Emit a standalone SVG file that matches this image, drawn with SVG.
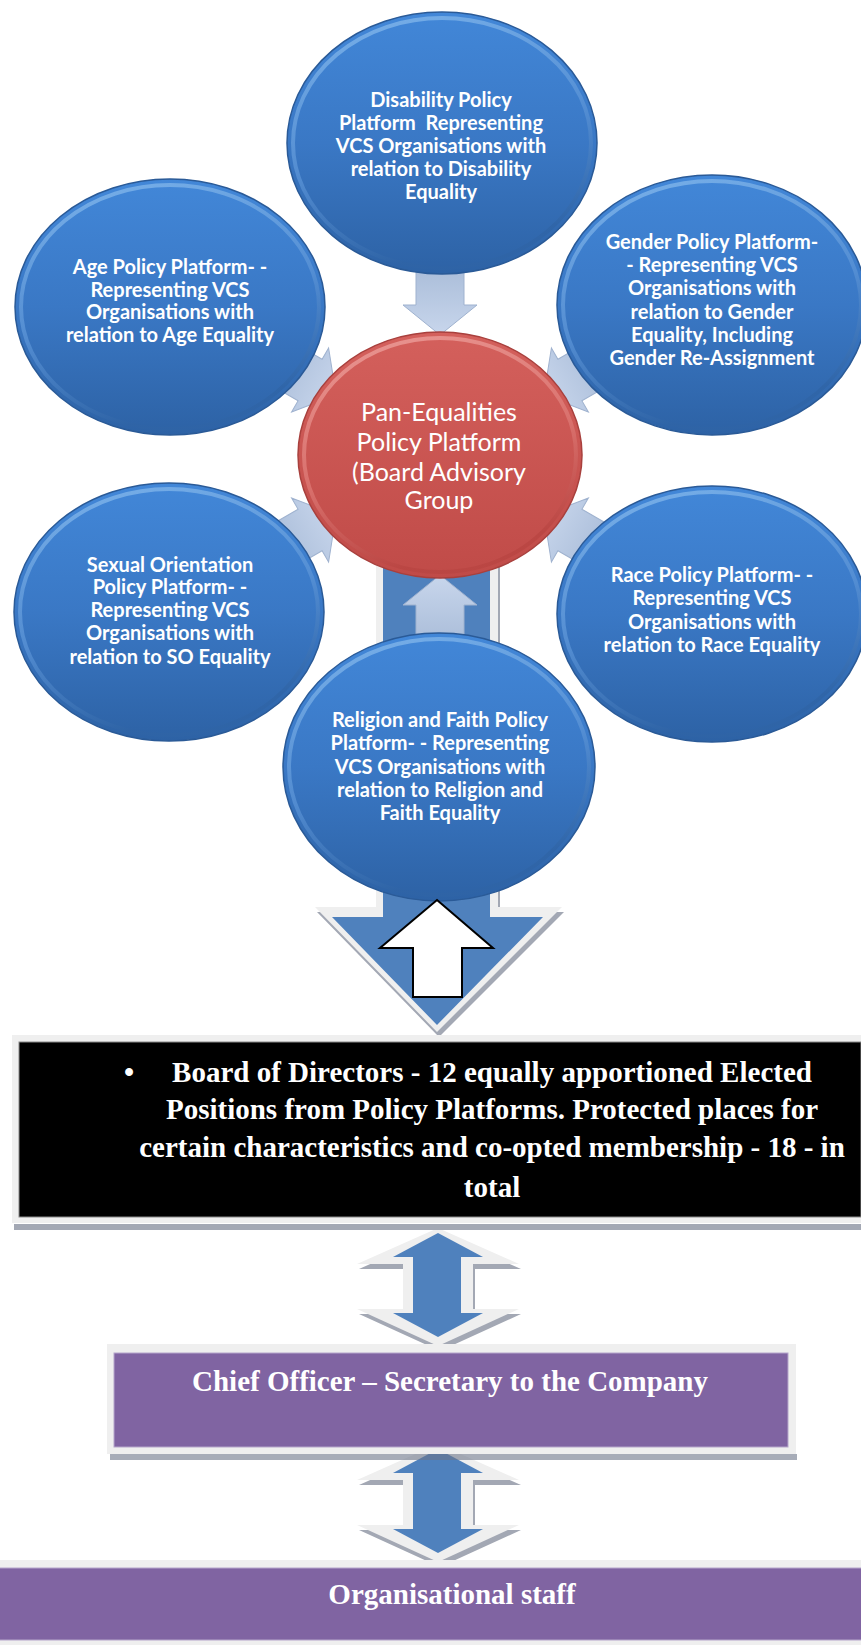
<svg xmlns="http://www.w3.org/2000/svg" xmlns:xlink="http://www.w3.org/1999/xlink" width="861" height="1645" viewBox="0 0 861 1645">
<defs>
<style>
.bt{font-family:Lato,"Open Sans","Liberation Sans",sans-serif;font-weight:bold;font-size:20px;fill:#fff;text-anchor:middle}
.rt{font-family:Lato,"Open Sans","Liberation Sans",sans-serif;font-size:25px;fill:#fff;text-anchor:middle}
.st{font-family:"Liberation Serif","Times New Roman",serif;font-weight:bold;font-size:29px;fill:#fff;text-anchor:middle}
.bc{fill:url(#bfill);stroke:#2a5a97;stroke-width:1.5}
.brim{fill:none;stroke:url(#brimg);stroke-width:4;opacity:.75}
.sa{fill:url(#safill);stroke:#9fb2cf;stroke-width:1}
.frame{fill:#efefef}
.shadow{fill:#a3a8b4}
.blue{fill:#4f81bd}
</style>
<linearGradient id="bfill" x1="0" y1="0" x2="0" y2="1">
<stop offset="0" stop-color="#4287d8"/><stop offset="0.5" stop-color="#3a78c5"/><stop offset="1" stop-color="#2d62a5"/>
</linearGradient>
<linearGradient id="brimg" x1="0" y1="0" x2="0.3" y2="1">
<stop offset="0" stop-color="#8dc0f0"/><stop offset="0.6" stop-color="#5a93d6"/><stop offset="1" stop-color="#2f64a6"/>
</linearGradient>
<linearGradient id="rfill" x1="0" y1="0" x2="0" y2="1">
<stop offset="0" stop-color="#d4605c"/><stop offset="1" stop-color="#c04b48"/>
</linearGradient>
<linearGradient id="rrim" x1="0" y1="0" x2="0.3" y2="1">
<stop offset="0" stop-color="#f0a6a2"/><stop offset="0.6" stop-color="#dc7672"/><stop offset="1" stop-color="#b94542"/>
</linearGradient>
<linearGradient id="safill" x1="0" y1="0" x2="1" y2="0">
<stop offset="0" stop-color="#c8d6ec"/><stop offset="1" stop-color="#aabdd9"/>
</linearGradient>
<polygon id="smallArrow" points="120,0 150,-37 150,-24 188,-24 188,24 150,24 150,37"/>
<polygon id="dblFrame" points="438,1228 519,1264 473,1264 473,1309 519,1309 438,1346 357,1309 403,1309 403,1264 357,1264"/>
<polygon id="dblBlue" points="438,1233 483,1257 461,1257 461,1313 483,1313 438,1337 393,1313 413,1313 413,1257 393,1257"/>
</defs>
<rect width="861" height="1645" fill="#fff"/>

<g id="connectors">
  <!-- big down arrow -->
  <g id="big-arrow">
    <polygon class="shadow" transform="translate(2,5)" points="376,440 498,440 498,907 562,907 437,1032 315,907 376,907"/>
    <polygon class="frame" points="376,440 498,440 498,907 562,907 437,1032 315,907 376,907"/>
    <polygon class="blue" points="383,440 490,440 490,917 543,917 437,1025 332,917 383,917"/>
  </g>
  <!-- small arrows to centre -->
  <g transform="translate(440,455)">
    <use xlink:href="#smallArrow" class="sa" transform="rotate(-90)"/>
    <use xlink:href="#smallArrow" class="sa" transform="rotate(-30)"/>
    <use xlink:href="#smallArrow" class="sa" transform="rotate(30)"/>
    <use xlink:href="#smallArrow" class="sa" transform="rotate(90)"/>
    <use xlink:href="#smallArrow" class="sa" transform="rotate(150)"/>
    <use xlink:href="#smallArrow" class="sa" transform="rotate(210)"/>
  </g>
  <!-- double arrows -->
  <g id="dbl1">
    <use xlink:href="#dblFrame" class="shadow" transform="translate(2,5)"/>
    <use xlink:href="#dblFrame" class="frame"/>
    <use xlink:href="#dblBlue" class="blue"/>
  </g>
  <g id="dbl2" transform="translate(0,216)">
    <use xlink:href="#dblFrame" class="shadow" transform="translate(2,5)"/>
    <use xlink:href="#dblFrame" class="frame"/>
    <use xlink:href="#dblBlue" class="blue"/>
  </g>
</g>

<g id="disability">
  <ellipse class="bc" cx="442" cy="143" rx="155" ry="131"/>
  <ellipse class="brim" cx="442" cy="143" rx="149" ry="125"/>
  <text class="bt" x="441" y="107">Disability Policy</text>
  <text class="bt" x="441" y="130" xml:space="preserve">Platform  Representing</text>
  <text class="bt" x="441" y="153">VCS Organisations with</text>
  <text class="bt" x="441" y="176">relation to Disability</text>
  <text class="bt" x="441" y="199">Equality</text>
</g>

<g id="age">
  <ellipse class="bc" cx="170" cy="307" rx="155" ry="128"/>
  <ellipse class="brim" cx="170" cy="307" rx="149" ry="122"/>
  <text class="bt" x="170" y="274">Age Policy Platform- -</text>
  <text class="bt" x="170" y="297">Representing VCS</text>
  <text class="bt" x="170" y="319">Organisations with</text>
  <text class="bt" x="170" y="342">relation to Age Equality</text>
</g>

<g id="gender">
  <ellipse class="bc" cx="712" cy="305" rx="155" ry="130"/>
  <ellipse class="brim" cx="712" cy="305" rx="149" ry="124"/>
  <text class="bt" x="712" y="249">Gender Policy Platform-</text>
  <text class="bt" x="712" y="272">- Representing VCS</text>
  <text class="bt" x="712" y="295">Organisations with</text>
  <text class="bt" x="712" y="319">relation to Gender</text>
  <text class="bt" x="712" y="342">Equality, Including</text>
  <text class="bt" x="712" y="365">Gender Re-Assignment</text>
</g>

<g id="sexual-orientation">
  <ellipse class="bc" cx="169" cy="612" rx="155" ry="129"/>
  <ellipse class="brim" cx="169" cy="612" rx="149" ry="123"/>
  <text class="bt" x="170" y="572">Sexual Orientation</text>
  <text class="bt" x="170" y="594">Policy Platform- -</text>
  <text class="bt" x="170" y="617">Representing VCS</text>
  <text class="bt" x="170" y="640">Organisations with</text>
  <text class="bt" x="170" y="664">relation to SO Equality</text>
</g>

<g id="race">
  <ellipse class="bc" cx="712" cy="614" rx="155" ry="128"/>
  <ellipse class="brim" cx="712" cy="614" rx="149" ry="122"/>
  <text class="bt" x="712" y="582">Race Policy Platform- -</text>
  <text class="bt" x="712" y="605">Representing VCS</text>
  <text class="bt" x="712" y="629">Organisations with</text>
  <text class="bt" x="712" y="652">relation to Race Equality</text>
</g>

<g id="pan-equalities">
  <ellipse cx="440" cy="455" rx="142" ry="123" fill="url(#rfill)" stroke="#a8403d" stroke-width="1.5"/>
  <ellipse cx="440" cy="455" rx="136" ry="117" fill="none" stroke="url(#rrim)" stroke-width="4" opacity=".8"/>
  <text class="rt" x="439" y="421">Pan-Equalities</text>
  <text class="rt" x="439" y="451">Policy Platform</text>
  <text class="rt" x="439" y="481">(Board Advisory</text>
  <text class="rt" x="439" y="509">Group</text>
</g>

<g id="religion">
  <ellipse class="bc" cx="439" cy="767" rx="156" ry="134"/>
  <ellipse class="brim" cx="439" cy="767" rx="150" ry="128"/>
  <text class="bt" x="440" y="727">Religion and Faith Policy</text>
  <text class="bt" x="440" y="750">Platform- - Representing</text>
  <text class="bt" x="440" y="774">VCS Organisations with</text>
  <text class="bt" x="440" y="797">relation to Religion and</text>
  <text class="bt" x="440" y="820">Faith Equality</text>
</g>

<g id="up-arrow">
  <polygon points="437,900 493,948 462,948 462,997 413,997 413,948 380,948" fill="#fff" stroke="#000" stroke-width="2"/>
</g>

<g id="board">
  <rect x="14" y="1224" width="847" height="6" fill="#a3a8b4"/>
  <rect class="frame" x="12" y="1035" width="849" height="188"/>
  <rect x="19" y="1042" width="842" height="175" fill="#000" stroke="#8a8a8a" stroke-width="1"/>
  <text class="st" x="129" y="1082">•</text>
  <text class="st" x="492" y="1082">Board of Directors - 12 equally apportioned Elected</text>
  <text class="st" x="492" y="1119">Positions from Policy Platforms. Protected places for</text>
  <text class="st" x="492" y="1157">certain characteristics and co-opted membership - 18 - in</text>
  <text class="st" x="492" y="1197">total</text>
</g>

<g id="chief-officer">
  <rect class="frame" x="107" y="1344" width="689" height="110"/>
  <rect x="110" y="1454" width="687" height="6" fill="#6d7488" opacity=".6"/>
  <rect x="114" y="1353" width="674" height="94" fill="#8064a2" stroke="#b6a6cb" stroke-width="1"/>
  <text class="st" x="450" y="1391">Chief Officer – Secretary to the Company</text>
</g>

<g id="organisational-staff">
  <rect class="frame" x="0" y="1560" width="861" height="85"/>
  <rect x="-1" y="1568" width="863" height="72" fill="#8064a2" stroke="#b6a6cb" stroke-width="1"/>
  <text class="st" x="452" y="1604">Organisational staff</text>
</g>
</svg>
